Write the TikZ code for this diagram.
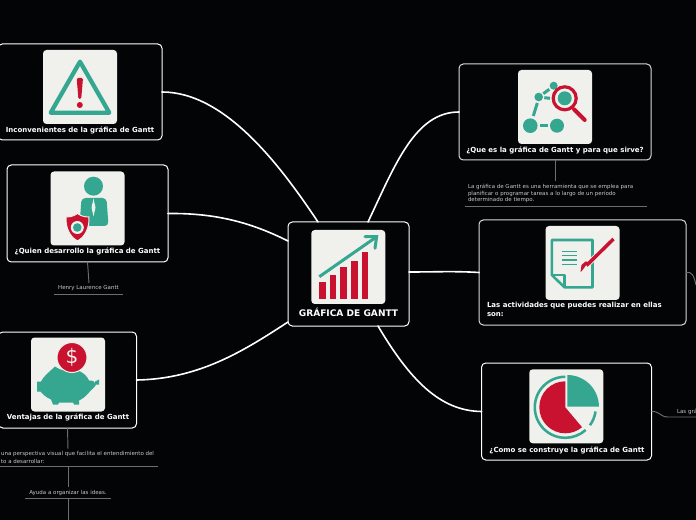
\documentclass[tikz,border=0pt]{standalone}
\usepackage{fontspec}
\usetikzlibrary{calc}
\setmainfont{DejaVu Sans}
\definecolor{bgc}{HTML}{030406}
\definecolor{teal1}{HTML}{35A68F}
\definecolor{red1}{HTML}{C8122F}
\definecolor{tilec}{HTML}{F0F0EC}
\definecolor{subc}{HTML}{C9C9C9}
\definecolor{linec}{HTML}{6E6E6E}
\tikzset{
 boxn/.style={draw=white,line width=.75pt,rounded corners=3.2pt,fill=bgc,inner sep=0,outer sep=0},
 tilen/.style={fill=tilec,rounded corners=2.6pt,inner sep=0,outer sep=0,minimum width=55.5pt,minimum height=55.5pt},
 title/.style={text=white,font=\bfseries\fontsize{5.25pt}{6.8pt}\selectfont,inner sep=0,outer sep=0},
 small/.style={text=subc,font=\fontsize{4.12pt}{5.1pt}\selectfont,inner sep=0,outer sep=0},
 mainlink/.style={draw=white,line width=1.2pt,line cap=round},
 sublink/.style={draw=linec,line width=.7pt},
 underl/.style={draw=linec,line width=.7pt},
 tl/.style={draw=teal1,line width=2.25pt},
 rd/.style={draw=red1,line width=2.25pt},
}
\begin{document}
\begin{tikzpicture}[x=.75pt,y=-.75pt]
\useasboundingbox (0,0) rectangle (696,520);
\fill[bgc] (0,0) rectangle (696,520);
\clip (0,0) rectangle (696,520);

% boxes
\node[boxn,minimum width=164*.75pt,minimum height=96*.75pt] (b1) at (80,92) {};
\node[boxn,minimum width=161*.75pt,minimum height=97*.75pt] (b2) at (87.5,213.5) {};
\node[boxn,minimum width=138*.75pt,minimum height=96*.75pt] (b3) at (67.5,380) {};
\node[boxn,minimum width=121*.75pt,minimum height=104*.75pt] (c) at (348.5,274) {};
\node[boxn,draw=white!85!black,minimum width=192*.75pt,minimum height=96*.75pt] (b4) at (555,112) {};
\node[boxn,draw=white!85!black,minimum width=207*.75pt,minimum height=105*.75pt] (b5) at (582.5,272.5) {};
\node[boxn,minimum width=170*.75pt,minimum height=97*.75pt] (b6) at (566.5,411.5) {};

% main connectors
\coordinate (c1) at (318,222);
\coordinate (c2) at (288,241);
\coordinate (c3) at (288,322);
\coordinate (c4) at (368,222);
\coordinate (c5) at (409,272);
\coordinate (c6) at (378,326);
\draw[mainlink] (b1.east) .. controls (225,92) and (280,165) .. (c1);
\draw[mainlink] (b2.east) .. controls (215,213) and (250,222) .. (c2);
\draw[mainlink] (b3.east) .. controls (200,379) and (245,350) .. (c3);
\draw[mainlink] (b4.west) .. controls (415,112) and (395,165) .. (c4);
\draw[mainlink] (b5.west) .. controls (455,271) and (435,272) .. (c5);
\draw[mainlink] (b6.west) .. controls (440,411) and (410,380) .. (c6);

% tiles
\node[tilen,anchor=north west] (t1) at (43,50) {};
\node[tilen,anchor=north west] (t2) at (50.5,171.5) {};
\node[tilen,anchor=north west] (t3) at (31,337.5) {};
\node[tilen,anchor=north west] (t0) at (311.3,230) {};
\node[tilen,anchor=north west] (t4) at (518,70) {};
\node[tilen,anchor=north west] (t5) at (545.5,226) {};
\node[tilen,anchor=north west] (t6) at (529.3,369.3) {};

% warning icon
\begin{scope}[shift={(43,50)}]
 \draw[tl,line width=3.2pt,line join=round] (37,11.7) -- (7.7,62.7) -- (66.3,62.7) -- cycle;
 \fill[red1,rounded corners=1pt] (33.7,28) -- (40,28) -- (38.2,49) -- (35.4,49) -- cycle;
 \fill[red1] (36.8,55) circle (3);
\end{scope}

% person icon
\begin{scope}[shift={(50.5,171.5)}]
 \fill[teal1] (43,14.7) circle (9.5);
 \fill[teal1,rounded corners=3pt] (31,26.5) -- (56,26.5) -- (58,54.5) -- (29,54.5) -- cycle;
 \fill[tilec] (43,27) -- (45,36) -- (43,45) -- (41,36) -- cycle;
 \fill[red1,draw=tilec,line width=.75pt] (27,42) .. controls (31,45) and (35,45.5) .. (38.5,45.5) .. controls (39,56) and (35,65) .. (27,69.5) .. controls (19,65) and (15,56) .. (15.5,45.5) .. controls (19,45.5) and (23,45) .. (27,42) -- cycle;
 \fill[tilec] (26.8,56) circle (6.5);
 \fill[teal1] (26.8,56) circle (4.3);
\end{scope}

% piggy icon
\begin{scope}[shift={(31,337.5)}]
 \fill[teal1] (24,29) .. controls (27,31) and (30,33) .. (36,33) .. controls (46,30) and (55,36) .. (58,43) .. controls (62,43) and (64,44) .. (65,47)
   .. controls (64,50) and (60,52) .. (58,55) .. controls (54,60) and (50,62) .. (48,63) -- (48,67) -- (43,67) -- (42,65) -- (28,65) -- (27,67) -- (22,67) -- (20,62)
   .. controls (15,60) and (11,56) .. (9.5,54) -- (6,54) -- (6,44) -- (10,44) .. controls (13,38) and (19,34) .. (24,29) -- cycle;
 \fill[teal1] (64,44) -- (68,42) -- (68,47) -- (64,47) -- cycle;
 \fill[red1,draw=tilec,line width=.75pt] (41,20) circle (15);
 \node[text=tilec,inner sep=0,font=\fontsize{15pt}{15pt}\selectfont] (dol) at (41,20) {\$};
\end{scope}

% chart icon
\begin{scope}[shift={(311.3,230)}]
 \fill[red1] (7.7,51.7) rectangle (14.3,69);
 \fill[red1] (18.3,45.3) rectangle (25,69);
 \fill[red1] (29,36.7) rectangle (35.7,69);
 \fill[red1] (39.7,30.7) rectangle (46.3,69);
 \fill[red1] (50.3,22) rectangle (57,69);
 \draw[tl] (8,46.7) -- (65,7);
 \draw[tl,line cap=round] (53.7,6.7) -- (65.3,6.7) -- (63.7,18.3);
\end{scope}

% magnifier icon
\begin{scope}[shift={(518,70)}]
 \fill[teal1] (12.3,55.7) circle (7.3);
 \fill[teal1] (39,55.7) circle (7);
 \fill[teal1] (20.7,27) circle (4.3);
 \fill[teal1] (35.7,15.7) circle (4);
 \draw[tl] (22,55.7) -- (30,55.7);
 \draw[tl] (19.3,33) -- (15.3,46);
 \draw[tl] (25.3,23.7) -- (31.3,19.3);
 \draw[tl] (26.3,27.7) -- (32,28.3);
 \fill[teal1] (46.7,28.3) circle (7);
 \draw[rd,line width=2.4pt] (46.7,28.3) circle (11.5);
 \draw[rd,line width=3pt,line cap=round] (56,39.3) -- (66.7,50);
\end{scope}

% document icon
\begin{scope}[shift={(545.5,226)}]
 \draw[tl,line width=1.9pt,line join=round] (6.3,14) -- (47,14) -- (47,61.3) -- (19,61.3) -- (6.3,49) -- cycle;
 \draw[tl,line width=1.9pt,line join=round] (6.3,49) -- (19,49) -- (19,61.3);
 \draw[teal1,line width=1pt] (16.3,25.7) -- (31.3,25.7) (16.3,29.7) -- (31.3,29.7) (16.3,34) -- (31.3,34) (16.3,38.3) -- (31.3,38.3);
 \draw[tilec,line width=4pt] (68,13) -- (40,40.5);
 \draw[rd,line width=2.6pt] (68,13) -- (41,39.5);
 \fill[red1] (43,36) -- (36.3,45) -- (35,46) -- (36,39) -- (40,35.5) -- cycle;
\end{scope}

% pie icon
\begin{scope}[shift={(529.3,369.3)},x=.75pt,y=.75pt]
 \fill[teal1] (38,-37.3) -- (38,-5.7) arc[start angle=90,end angle=0,radius=31.6] -- cycle;
 \fill[red1] (36,-38) -- (36,-12) arc[start angle=90,delta angle=220,radius=26] -- cycle;
 \draw[teal1,line width=1.9pt] (36,-7.5) arc[start angle=90,delta angle=222,radius=30.5];
 \draw[teal1,line width=1.9pt] ($(36,-38)+(-8:30.5)$) arc[start angle=-8,end angle=-36,radius=30.5];
\end{scope}

% titles
\node[title] (tx1) at (80,130.5) {Inconvenientes de la gráfica de Gantt};
\node[title] (tx2) at (87.5,251.5) {¿Quien desarrollo la gráfica de Gantt};
\node[title] (tx3) at (68,417.5) {Ventajas de la gráfica de Gantt};
\node[title,font=\bfseries\fontsize{6.8pt}{6.8pt}\selectfont] (tx0) at (348.5,312) {GRÁFICA DE GANTT};
\node[title] (tx4) at (555,150.5) {¿Que es la gráfica de Gantt y para que sirve?};
\node[title,align=left,anchor=north west] (tx5) at (487,302.5) {Las actividades que puedes realizar en ellas\\son:};
\node[title] (tx6) at (567,450.5) {¿Como se construye la gráfica de Gantt};

% sub-branches
\node[small,align=left,anchor=north west] (s4) at (468,184) {La gráfica de Gantt es una herramienta que se emplea para\\planificar o programar tareas a lo largo de un período\\determinado de tiempo.};
\coordinate (u4a) at (465,206);
\coordinate (u4b) at (647,206);
\draw[underl] (u4a) -- (u4b);
\draw[sublink] (b4.south) -- (555,181);

\node[small] (s2) at (88.5,288) {Henry Laurence Gantt};
\coordinate (u2a) at (54,294);
\coordinate (u2b) at (123,294);
\draw[underl] (u2a) -- (u2b);
\draw[sublink] (b2.south) -- (89,283);

\node[small,anchor=east] (s3a) at (154,454) {una perspectiva visual que facilita el entendimiento del};
\node[small,anchor=west] (s3b) at (1,461) {to a desarrollar:};
\coordinate (u3a) at (0,466.5);
\coordinate (u3b) at (158,466.5);
\draw[underl] (u3a) -- (u3b);
\draw[sublink] (b3.south) -- (68,449);
\coordinate (u3m) at (68,466.5);
\node[small] (s3c) at (68,493) {Ayuda a organizar las ideas.};
\coordinate (u5a) at (25,498.5);
\coordinate (u5b) at (111,498.5);
\coordinate (u5m) at (68,498.5);
\coordinate (u6m) at (68,520);
\coordinate (s3ct) at (68,487);
\draw[underl] (u5a) -- (u5b);
\draw[sublink] (u3m) -- (s3ct);
\draw[sublink] (u5m) -- (u6m);

\coordinate (r5) at (696,285);
\draw[sublink] (b5.east) .. controls (692,271) and (694,276) .. (r5);
\node[small,anchor=west] (s6) at (677,412) {Las grá};
\coordinate (r6a) at (668,417);
\coordinate (r6b) at (696,417);
\draw[sublink] (b6.east) .. controls (660,411) and (660,417) .. (r6a) -- (r6b);
\end{tikzpicture}
\end{document}
